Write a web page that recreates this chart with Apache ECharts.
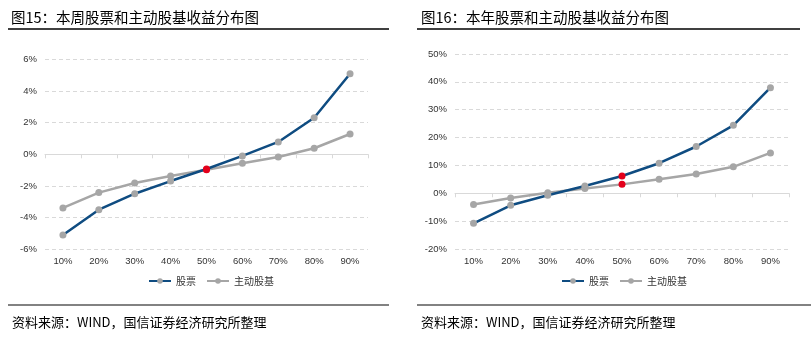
<!DOCTYPE html>
<html>
<head>
<meta charset="utf-8">
<script src="https://cdn.jsdelivr.net/npm/echarts@6/dist/echarts.min.js"></script>
<style>
html,body{margin:0;padding:0;background:#fff;}
#c{width:811px;height:345px;}
</style>
</head>
<body>
<div id="c"></div>
<script>
var categories = ['10%','20%','30%','40%','50%','60%','70%','80%','90%'];
var weekStock = [-5.10, -3.50, -2.49, -1.69, -0.93, -0.10, 0.78, 2.31, 5.09];
var weekFund  = [-3.39, -2.42, -1.81, -1.37, -0.97, -0.57, -0.17, 0.38, 1.28];
var yearStock = [-10.8, -4.3, -0.7, 2.6, 6.2, 10.8, 16.8, 24.4, 37.9];
var yearFund  = [-4.0, -1.7, 0.2, 1.7, 3.2, 5.0, 6.9, 9.5, 14.5];
var seriesNames = ['股票', '主动股基'];
var titles = ['图15：本周股票和主动股基收益分布图', '图16：本年股票和主动股基收益分布图'];
var sourceText = '资料来源：WIND，国信证券经济研究所整理';
var highlightIndex = 4;

var BLUE = '#0F4C81', GRAY = '#A6A6A6', RED = '#E3001B';
var CJK = '"Noto Sans CJK SC", sans-serif';
var LAT = '"Liberation Sans", Arial, sans-serif';

function mark(arr) {
  return arr.map(function (v, i) {
    return i === highlightIndex ? { value: v, itemStyle: { color: RED } } : v;
  });
}

var grids = [
  { left: 45, right: 443, top: 59.3, bottom: 95.7 },
  { left: 455, right: 22, top: 54, bottom: 96 }
];

var xAxes = [], yAxes = [], series = [];
[0, 1].forEach(function (g) {
  xAxes.push({
    type: 'category', data: categories, gridIndex: g, position: 'bottom',
    axisLine: { show: false, onZero: false }, axisTick: { show: false },
    axisLabel: { color: '#333', fontSize: 9.5, fontFamily: LAT, margin: 7 }
  });
  xAxes.push({
    type: 'category', data: categories, gridIndex: g, position: 'bottom',
    axisLine: { show: true, onZero: true, lineStyle: { color: '#D9D9D9', width: 1 } },
    axisTick: { show: true, length: 4, lineStyle: { color: '#D9D9D9' } },
    axisLabel: { show: false }
  });
});
yAxes.push({
  type: 'value', gridIndex: 0, min: -6, max: 6, interval: 2,
  axisLine: { show: false }, axisTick: { show: false },
  axisLabel: { color: '#333', fontSize: 9.5, fontFamily: LAT, formatter: '{value}%' },
  splitLine: { lineStyle: { color: '#D9D9D9', type: [4, 3] } }
});
yAxes.push({
  type: 'value', gridIndex: 1, min: -20, max: 50, interval: 10,
  axisLine: { show: false }, axisTick: { show: false },
  axisLabel: { color: '#333', fontSize: 9.5, fontFamily: LAT, formatter: '{value}%' },
  splitLine: { lineStyle: { color: '#D9D9D9', type: [4, 3] } }
});

function line(name, data, xi, yi, lineColor) {
  return {
    name: name, type: 'line', xAxisIndex: xi, yAxisIndex: yi,
    data: mark(data), symbol: 'circle', symbolSize: 7,
    lineStyle: { color: lineColor, width: 2.5 },
    itemStyle: { color: GRAY },
    emphasis: { disabled: true }, animation: false
  };
}
series.push(line(seriesNames[1], weekFund, 0, 0, GRAY));
series.push(line(seriesNames[0], weekStock, 0, 0, BLUE));
series.push(line(seriesNames[1], yearFund, 2, 1, GRAY));
series.push(line(seriesNames[0], yearStock, 2, 1, BLUE));

var legendCommon = {
  data: seriesNames, itemWidth: 22, itemHeight: 7, itemGap: 10,
  textStyle: { fontSize: 10, fontFamily: CJK, color: '#333' },
  top: 271
};

var titleStyle = { fontSize: 14.5, fontWeight: 'normal', color: '#000', fontFamily: CJK };
var srcStyle = { fontSize: 13, fontWeight: 'normal', color: '#000', fontFamily: CJK };

var chart = echarts.init(document.getElementById('c'), null, { renderer: 'canvas' });
chart.setOption({
  backgroundColor: '#fff',
  animation: false,
  title: [
    { text: titles[0], left: 6, top: 5, textStyle: titleStyle },
    { text: titles[1], left: 416, top: 5, textStyle: titleStyle },
    { text: sourceText, left: 7, top: 311, textStyle: srcStyle },
    { text: sourceText, left: 416, top: 311, textStyle: srcStyle }
  ],
  legend: [
    Object.assign({ left: 143 }, legendCommon),
    Object.assign({ left: 556 }, legendCommon)
  ],
  grid: grids,
  xAxis: xAxes,
  yAxis: yAxes,
  series: series,
  graphic: [
    { type: 'line', shape: { x1: 8, y1: 29, x2: 389, y2: 29 }, style: { stroke: '#000', lineWidth: 1.5 } },
    { type: 'line', shape: { x1: 417, y1: 29, x2: 800, y2: 29 }, style: { stroke: '#000', lineWidth: 1.5 } },
    { type: 'line', shape: { x1: 8, y1: 305, x2: 389, y2: 305 }, style: { stroke: '#595959', lineWidth: 1.5 } },
    { type: 'line', shape: { x1: 417, y1: 305, x2: 811, y2: 305 }, style: { stroke: '#595959', lineWidth: 1.5 } }
  ]
});
</script>
</body>
</html>
